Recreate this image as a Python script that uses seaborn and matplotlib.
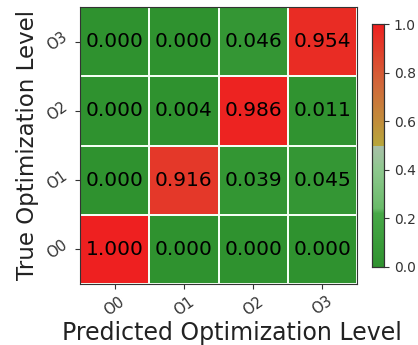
import numpy as np
import pandas as pd
import matplotlib
matplotlib.use("Agg")
import matplotlib.pyplot as plt
import seaborn as sns
from matplotlib.colors import LinearSegmentedColormap

# Confusion matrix (row = true level, column = predicted level)
levels = ["O0", "O1", "O2", "O3"]
row_o0 = [1.000, 0.000, 0.000, 0.000]
row_o1 = [0.000, 0.916, 0.039, 0.045]
row_o2 = [0.000, 0.004, 0.986, 0.011]
row_o3 = [0.000, 0.000, 0.046, 0.954]

cm = pd.DataFrame([row_o0, row_o1, row_o2, row_o3], index=levels, columns=levels)

# Green for low scores, red for high scores, with a break at 0.5
cmap = LinearSegmentedColormap.from_list(
    "green_red",
    [
        (0.00, "#2f922f"),
        (0.22, "#47a847"),
        (0.24, "#6abb6a"),
        (0.40, "#8ec88e"),
        (0.499, "#a9bfa9"),
        (0.501, "#b7a63c"),
        (0.75, "#d0683a"),
        (1.00, "#ee2020"),
    ],
)

sns.set_style("white")
plt.rcParams["font.family"] = ["DejaVu Sans"]

fig = plt.figure(figsize=(4.18, 3.45), dpi=100)
W, H = 418, 345
ax = fig.add_axes([80 / W, (H - 284) / H, 277 / W, 277 / H])
cax = fig.add_axes([372 / W, (H - 267) / H, 12 / W, 243 / H])

sns.heatmap(
    cm,
    ax=ax,
    cbar_ax=cax,
    cmap=cmap,
    vmin=0.0,
    vmax=1.0,
    annot=True,
    fmt=".3f",
    annot_kws={"size": 14.5, "color": "black"},
    linewidths=1.2,
    linecolor="#f4fff4",
    square=False,
)
ax.invert_yaxis()

for side in ["left", "right", "top", "bottom"]:
    ax.spines[side].set_visible(True)
    ax.spines[side].set_color("#333333")
    ax.spines[side].set_linewidth(0.8)

ax.tick_params(axis="both", which="both", length=3.5, width=0.8, color="#333333",
               labelsize=10.5, left=True, bottom=True)
ax.set_xticklabels(levels, rotation=35, color="#333333")
ax.set_yticklabels(levels, rotation=35, color="#333333", va="center")

ax.set_xlabel("Predicted Optimization Level", fontsize=17, color="#222222")
ax.xaxis.set_label_coords(0.55, -0.135)
ax.set_ylabel("True Optimization Level", fontsize=16.5, color="#222222", labelpad=4)

cax.tick_params(labelsize=10, length=3.5, width=0.8, color="#333333", labelcolor="#333333")
cax.set_yticks([0.0, 0.2, 0.4, 0.6, 0.8, 1.0])
cax.set_yticklabels(["0.0", "0.2", "0.4", "0.6", "0.8", "1.0"])
for sp in cax.spines.values():
    sp.set_visible(True)
    sp.set_color("#333333")
    sp.set_linewidth(0.8)

fig.savefig("out.png", dpi=100)
